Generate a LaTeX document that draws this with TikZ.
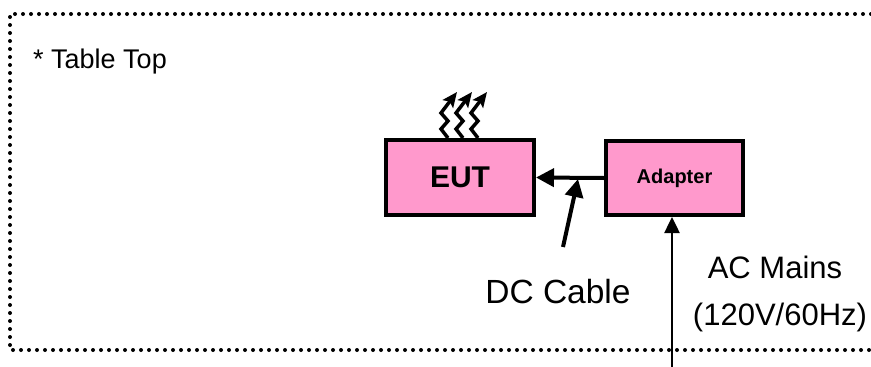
\documentclass[tikz,border=0pt]{standalone}
\usepackage{fontspec}
\setmainfont{Liberation Sans}
\usetikzlibrary{arrows.meta,positioning,calc}

\tikzset{
    unitbox/.style={draw, line width=4pt, fill=boxpink, inner sep=0pt},
    heat/.style={line width=3.5pt, -{Stealth[length=15pt,width=13pt,inset=3pt]}, line join=miter},
    cable/.style={line width=4pt, -{Triangle[length=18pt,width=18pt]}}
}
\definecolor{boxpink}{HTML}{FF99CC}

\begin{document}
\begin{tikzpicture}[x=1pt, y=-1pt]
    \useasboundingbox (0,0) rectangle (871,367);

    % Table top border
    \draw [line width=4pt, line cap=round, dash pattern=on 0pt off 8pt] (871,14) -- (10,14) -- (10,350) -- (871,350);
    \node [anchor=base west, inner sep=0pt, font=\fontsize{27}{32}\selectfont] (tabletop) at (33,68) {* Table Top};

    % Units
    \node [unitbox, minimum width=148pt, minimum height=75pt, font=\bfseries\fontsize{30}{36}\selectfont] (eut) at (460,177.5) {EUT};
    \node [unitbox, minimum width=137pt, minimum height=74pt, font=\bfseries\fontsize{20}{24}\selectfont] (adapter) at (674.5,178) {Adapter};

    % Heat
    \foreach \dx in {0,15,30} {
        \draw [heat] ($(eut.north west)+(64+\dx,0)$) -- ++(-7,-9) -- ++(7,-8) -- ++(-7,-8) -- ++(16,-21);
    }

    % DC cable
    \draw [cable] (adapter.west) -- (eut.east);
    \coordinate (dctail) at (563,247);
    \coordinate (dctip) at (578,179);
    \draw [cable] (dctail) -- (dctip);
    \node [anchor=base, inner sep=0pt, font=\fontsize{33.5}{40}\selectfont] (dclabel) at (558,303) {DC Cable};

    % AC mains
    \coordinate (acin) at (672,367);
    \draw [line width=2.5pt, -{Triangle[length=16pt,width=15pt]}] (acin) -- (acin |- adapter.south);
    \node [anchor=base, inner sep=0pt, font=\fontsize{31}{37}\selectfont] (aclabel) at (775,278) {AC Mains};
    \node [anchor=base, inner sep=0pt, font=\fontsize{31}{37}\selectfont] (acvolt) at (780,325) {(120V/60Hz)};
\end{tikzpicture}
\end{document}
